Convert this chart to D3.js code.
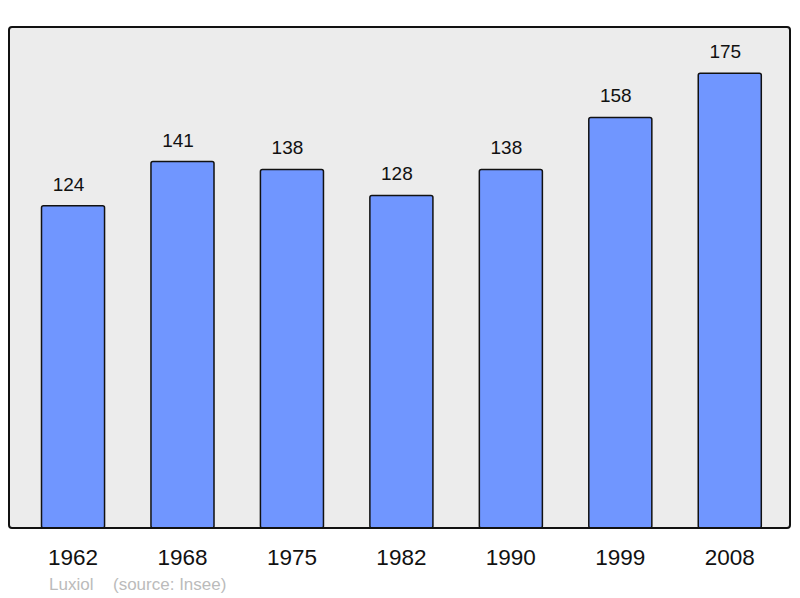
<!DOCTYPE html>
<html><head><meta charset="utf-8">
<script src="https://cdn.jsdelivr.net/npm/d3@7"></script>
<style>body{margin:0;background:#fff;}svg{display:block;font-family:"Liberation Sans",Arial,sans-serif;}</style>
</head><body>
<script>
const years = ["1962","1968","1975","1982","1990","1999","2008"];
const population = [124,141,138,128,138,158,175];
const yMax = 192.8;
const credit = "Luxiol";
const source = "(source: Insee)";

const W = 800, H = 598;
const svg = d3.select("body").append("svg").attr("width", W).attr("height", H);

const frame = {x0: 9, y0: 27, x1: 790, y1: 528};
const x = d3.scaleBand().domain(years).range([18.3, 784.5]).paddingInner(0.424).paddingOuter(0.212);
const y = d3.scaleLinear().domain([0, yMax]).range([frame.y1, frame.y0]);

svg.append("rect").attr("x", frame.x0).attr("y", frame.y0)
  .attr("width", frame.x1 - frame.x0).attr("height", frame.y1 - frame.y0)
  .attr("rx", 3).attr("fill", "#ececec");

svg.selectAll("rect.bar").data(population).enter().append("rect").attr("class","bar")
  .attr("x", (d,i) => x(years[i]))
  .attr("y", d => y(d))
  .attr("width", x.bandwidth())
  .attr("height", d => y(0) - y(d))
  .attr("rx", 2)
  .attr("fill", "#7096ff").attr("stroke", "#111").attr("stroke-width", 1.5);

svg.selectAll("text.val").data(population).enter().append("text").attr("class","val")
  .attr("x", (d,i) => x(years[i]) + x.bandwidth()/2 - 4.5)
  .attr("y", d => y(d) - 15)
  .attr("text-anchor", "middle").attr("font-size", 19).attr("fill", "#111")
  .text(d => d);

// frame border on top
svg.append("rect").attr("x", frame.x0).attr("y", frame.y0)
  .attr("width", frame.x1 - frame.x0).attr("height", frame.y1 - frame.y0)
  .attr("rx", 3).attr("fill", "none").attr("stroke", "#111").attr("stroke-width", 2);

const xAxis = svg.append("g").attr("transform", `translate(0,${frame.y1})`)
  .call(d3.axisBottom(x).tickSize(0).tickPadding(0));
xAxis.select(".domain").remove();
xAxis.selectAll("text").attr("font-size", 22.5).attr("fill", "#111")
  .attr("font-family", "Liberation Sans, Arial, sans-serif")
  .attr("dy", null).attr("y", 37);

svg.append("text").attr("x", 49).attr("y", 590).attr("font-size", 17).attr("fill", "#bbb").text(credit);
svg.append("text").attr("x", 113).attr("y", 590).attr("font-size", 17).attr("fill", "#bbb").text(source);
</script>
</body></html>
